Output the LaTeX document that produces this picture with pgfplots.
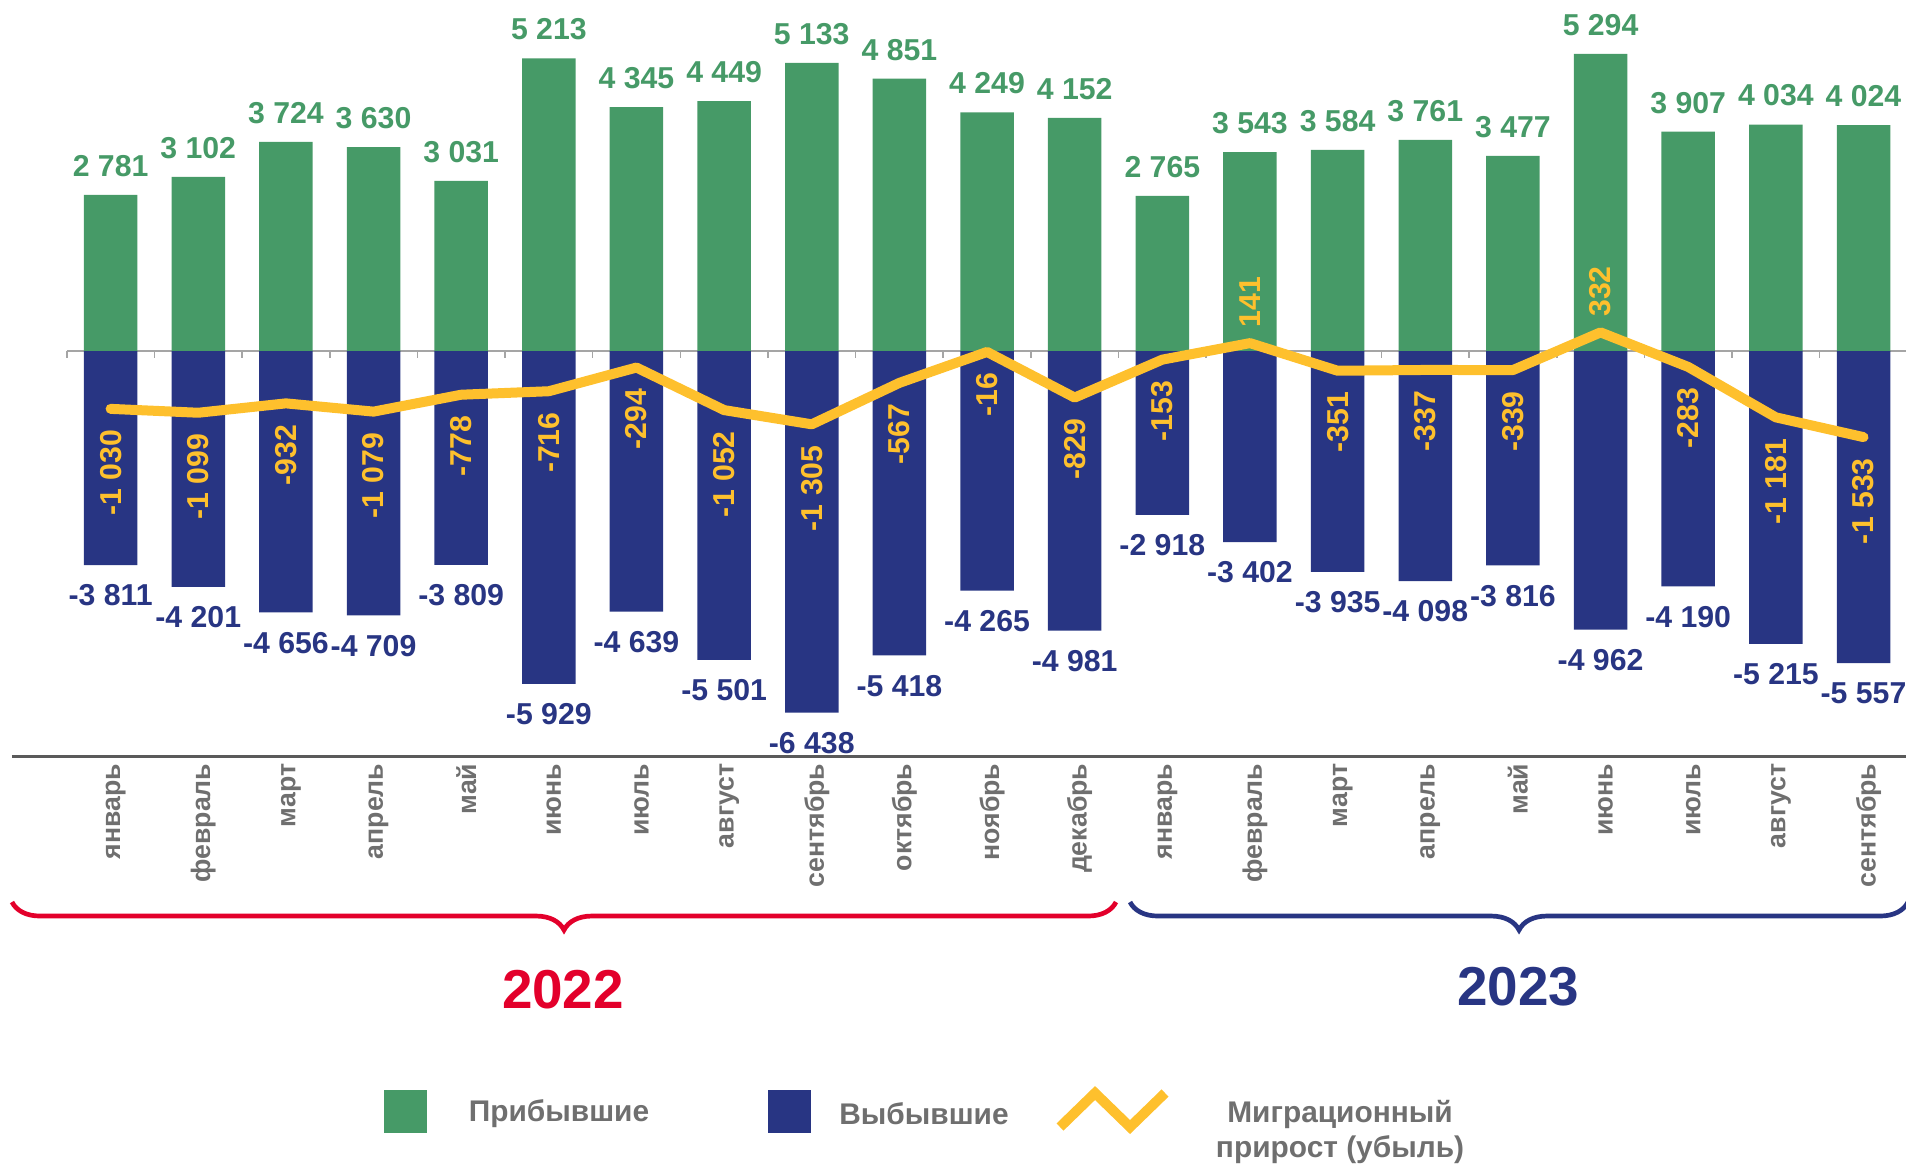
\documentclass[border=0pt]{standalone}
\usepackage{fontspec}
\setmainfont{Liberation Sans}
\usepackage{pgfplots}
\pgfplotsset{compat=1.18}
\usepackage{pgfplotstable}
\usetikzlibrary{decorations.pathreplacing}
\definecolor{cgreen}{HTML}{469A67}
\definecolor{cnavy}{HTML}{283583}
\definecolor{cyellow}{HTML}{FEC02D}
\definecolor{cgray}{HTML}{6F6F6F}
\definecolor{czero}{HTML}{A5A5A5}
\definecolor{caxis}{HTML}{5A5A5A}
\definecolor{cred}{HTML}{E3002B}
\newcommand\labfont{\fontsize{8.6}{10}\selectfont\bfseries}
\newcommand\monthfont{\fontsize{7.6}{9}\selectfont\bfseries}
\newcommand\legfont{\fontsize{8.5}{10}\selectfont\bfseries}
\newcommand\yearfont{\fontsize{15.6}{18}\selectfont\bfseries}
\newcommand\fmt[1]{\pgfmathprintnumber[fixed,precision=0,1000 sep={\ },assume math mode=true]{#1}}
\pgfplotstableread{
i arr dep net
0 2781 -3811 -1030
1 3102 -4201 -1099
2 3724 -4656 -932
3 3630 -4709 -1079
4 3031 -3809 -778
5 5213 -5929 -716
6 4345 -4639 -294
7 4449 -5501 -1052
8 5133 -6438 -1305
9 4851 -5418 -567
10 4249 -4265 -16
11 4152 -4981 -829
12 2765 -2918 -153
13 3543 -3402 141
14 3584 -3935 -351
15 3761 -4098 -337
16 3477 -3816 -339
17 5294 -4962 332
18 3907 -4190 -283
19 4034 -5215 -1181
20 4024 -5557 -1533
}\data
\begin{document}
\begin{tikzpicture}
\path[use as bounding box] (-6.68mm,-40.83mm) rectangle (183.92mm,75.67mm);
\begin{axis}[
  at={(0,0)}, anchor=south west,
  scale only axis, width=184.05mm, height=75.66mm,
  xmin=-0.5, xmax=20.5, ymin=-7225, ymax=6250,
  enlargelimits=false, clip=false,
  axis x line=bottom, axis y line=none,
  x axis line style={draw=caxis, line width=0.7pt, -, shorten <=-5.48mm},
  xtick={0,...,20},
  xticklabels={январь,февраль,март,апрель,май,июнь,июль,август,сентябрь,октябрь,ноябрь,декабрь,январь,февраль,март,апрель,май,июнь,июль,август,сентябрь},
  major tick length=0pt,
  xticklabel style={xshift=0.5mm, yshift=-0.63mm, rotate=90, anchor=east, inner sep=0pt, font=\monthfont, text=cgray},
  ytick=\empty,
]
% zero line with separators
\draw[czero, line width=0.45pt] (axis cs:-0.5,0) -- (axis cs:20.5,0);
\pgfplotsinvokeforeach{-0.5,0.5,...,20.5}{
  \draw[czero, line width=0.45pt] (axis cs:#1,0) -- (axis cs:#1,-125);
}
\addplot[ybar, bar width=5.35mm, bar shift=0pt, fill=cgreen, draw=none,
  nodes near coords={\fmt{\pgfplotspointmeta}},
  every node near coord/.append style={anchor=south, inner sep=0pt, yshift=1.76mm, font=\labfont, text=cgreen}]
  table[x=i, y=arr]{\data};
\addplot[ybar, bar width=5.35mm, bar shift=0pt, fill=cnavy, draw=none,
  nodes near coords={\fmt{\pgfplotspointmeta}},
  every node near coord/.append style={anchor=north, inner sep=0pt, yshift=-1.9mm, font=\labfont, text=cnavy}]
  table[x=i, y=dep]{\data};
\addplot[cyellow, line width=1mm, line join=round, line cap=round, mark=none]
  table[x=i, y=net]{\data};
\addplot[draw=none, mark=none, forget plot, restrict y to domain=-100000:-0.5,
  nodes near coords={\fmt{\pgfplotspointmeta}},
  every node near coord/.append style={yshift=-2.05mm, rotate=90, anchor=east, inner sep=0pt, font=\labfont, text=cyellow}]
  table[x=i, y=net]{\data};
\addplot[draw=none, mark=none, forget plot, restrict y to domain=0.5:100000,
  nodes near coords={\fmt{\pgfplotspointmeta}},
  every node near coord/.append style={yshift=1.5mm, rotate=90, anchor=west, inner sep=0pt, font=\labfont, text=cyellow}]
  table[x=i, y=net]{\data};
\end{axis}
\begin{scope}[shift={(-6.68mm,75.67mm)}, x=0.1mm, y=0.1mm]
  % braces
  \draw[cred, line width=0.47mm, decorate, decoration={brace, mirror, amplitude=2.8mm}] (12,-902) -- (1116,-902);
  \draw[cnavy, line width=0.47mm, decorate, decoration={brace, mirror, amplitude=2.8mm}] (1130,-902) -- (1908,-902);
  \node[text=cred, font=\yearfont, inner sep=0pt] at (563,-990) {2022};
  \node[text=cnavy, font=\yearfont, inner sep=0pt] at (1518,-987) {2023};
  % legend
  \fill[cgreen] (384,-1090) rectangle (427,-1133);
  \node[text=cgray, font=\legfont, inner sep=0pt] at (559,-1114) {Прибывшие};
  \fill[cnavy] (768,-1090) rectangle (811,-1133);
  \node[text=cgray, font=\legfont, inner sep=0pt] at (924,-1114) {Выбывшие};
  \draw[cyellow, line width=1mm, line join=miter] (1060,-1127) -- (1095,-1093) -- (1130,-1127) -- (1165,-1093);
  \node[text=cgray, font=\legfont, inner sep=0pt, align=center] at (1340,-1132) {Миграционный\\прирост (убыль)};
\end{scope}
\end{tikzpicture}
\end{document}
